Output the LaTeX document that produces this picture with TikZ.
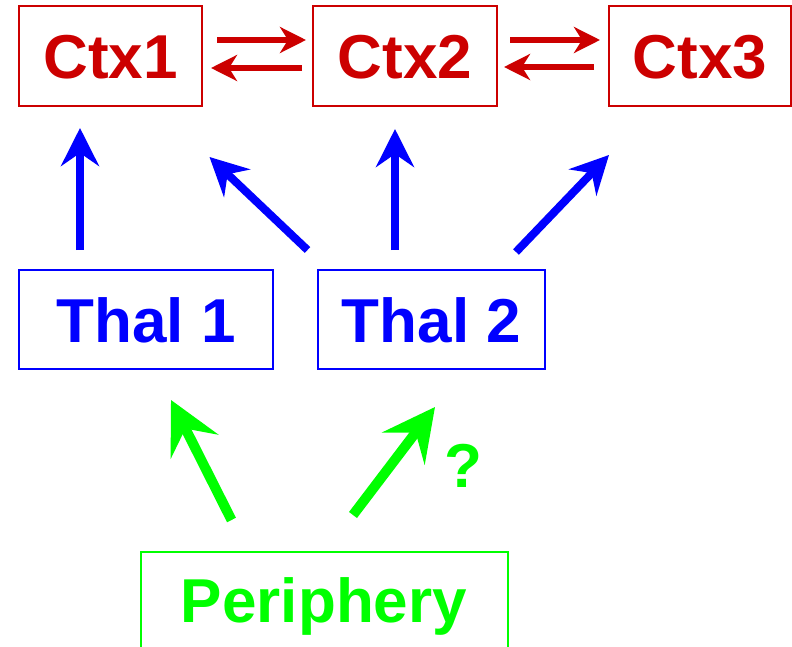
\documentclass[tikz,border=0pt]{standalone}
\usepackage{fontspec}
\setmainfont{Liberation Sans}
\usetikzlibrary{arrows.meta}
\definecolor{ctxred}{RGB}{204,0,0}
\definecolor{thalblue}{RGB}{0,0,255}
\definecolor{perigreen}{RGB}{0,255,0}
\begin{document}
\begin{tikzpicture}[x=1pt,y=-1pt,
  box/.style={draw, line width=2pt, inner sep=0pt, minimum height=100pt,
    font=\fontsize{62}{62}\selectfont\bfseries, text height=45pt, text depth=0pt},
  ctx/.style={box, draw=ctxred, text=ctxred},
  thal/.style={box, draw=thalblue, text=thalblue, minimum height=99pt},
  peri/.style={box, draw=perigreen, text=perigreen, minimum height=96pt},
  redarrow/.style={draw=ctxred, line width=5.7pt, -{Stealth[length=26pt,width=26pt,inset=8pt]}},
  bluearrow/.style={draw=thalblue, line width=8pt, -{Stealth[length=38pt,width=38pt,inset=13pt]}},
  greenarrow/.style={draw=perigreen, line width=10pt, -{Stealth[length=52pt,width=53pt,inset=20pt]}},
  qlabel/.style={text=perigreen, inner sep=0pt, font=\fontsize{62}{62}\selectfont\bfseries, text height=45pt, text depth=0pt}
]
\useasboundingbox (0,0) rectangle (792,647);
% boxes
\node[ctx, minimum width=183pt] (c1) at (110.5,56) {Ctx1};
\node[ctx, minimum width=184pt] (c2) at (405,56) {Ctx2};
\node[ctx, minimum width=182pt] (c3) at (700,56) {Ctx3};
\node[thal, minimum width=254pt] (t1) at (146,319.5) {Thal 1};
\node[thal, minimum width=227pt] (t2) at (431.5,319.5) {Thal 2};
\node[peri, minimum width=367pt] (p) at (324,600) {Periphery};
\node[qlabel] (q) at (463,465) {?};
% arrow end points
\coordinate (r1a) at (217,40);  \coordinate (r1b) at (306,40);
\coordinate (r2a) at (302,68);  \coordinate (r2b) at (211,68);
\coordinate (r3a) at (510,40);  \coordinate (r3b) at (600,40);
\coordinate (r4a) at (594,67);  \coordinate (r4b) at (504,67);
\coordinate (b1a) at (80,250);  \coordinate (b1b) at (80,128);
\coordinate (b2a) at (307.5,250); \coordinate (b2b) at (209.5,157);
\coordinate (b3a) at (395,250); \coordinate (b3b) at (395,129);
\coordinate (b4a) at (516,252); \coordinate (b4b) at (609,155);
\coordinate (g1a) at (231.5,520); \coordinate (g1b) at (171,400);
\coordinate (g2a) at (353,515); \coordinate (g2b) at (435,407);
% red arrows
\draw[redarrow] (r1a) -- (r1b);
\draw[redarrow] (r2a) -- (r2b);
\draw[redarrow] (r3a) -- (r3b);
\draw[redarrow] (r4a) -- (r4b);
% blue arrows
\draw[bluearrow] (b1a) -- (b1b);
\draw[bluearrow] (b2a) -- (b2b);
\draw[bluearrow] (b3a) -- (b3b);
\draw[bluearrow] (b4a) -- (b4b);
% green arrows
\draw[greenarrow] (g1a) -- (g1b);
\draw[greenarrow] (g2a) -- (g2b);
\end{tikzpicture}
\end{document}
